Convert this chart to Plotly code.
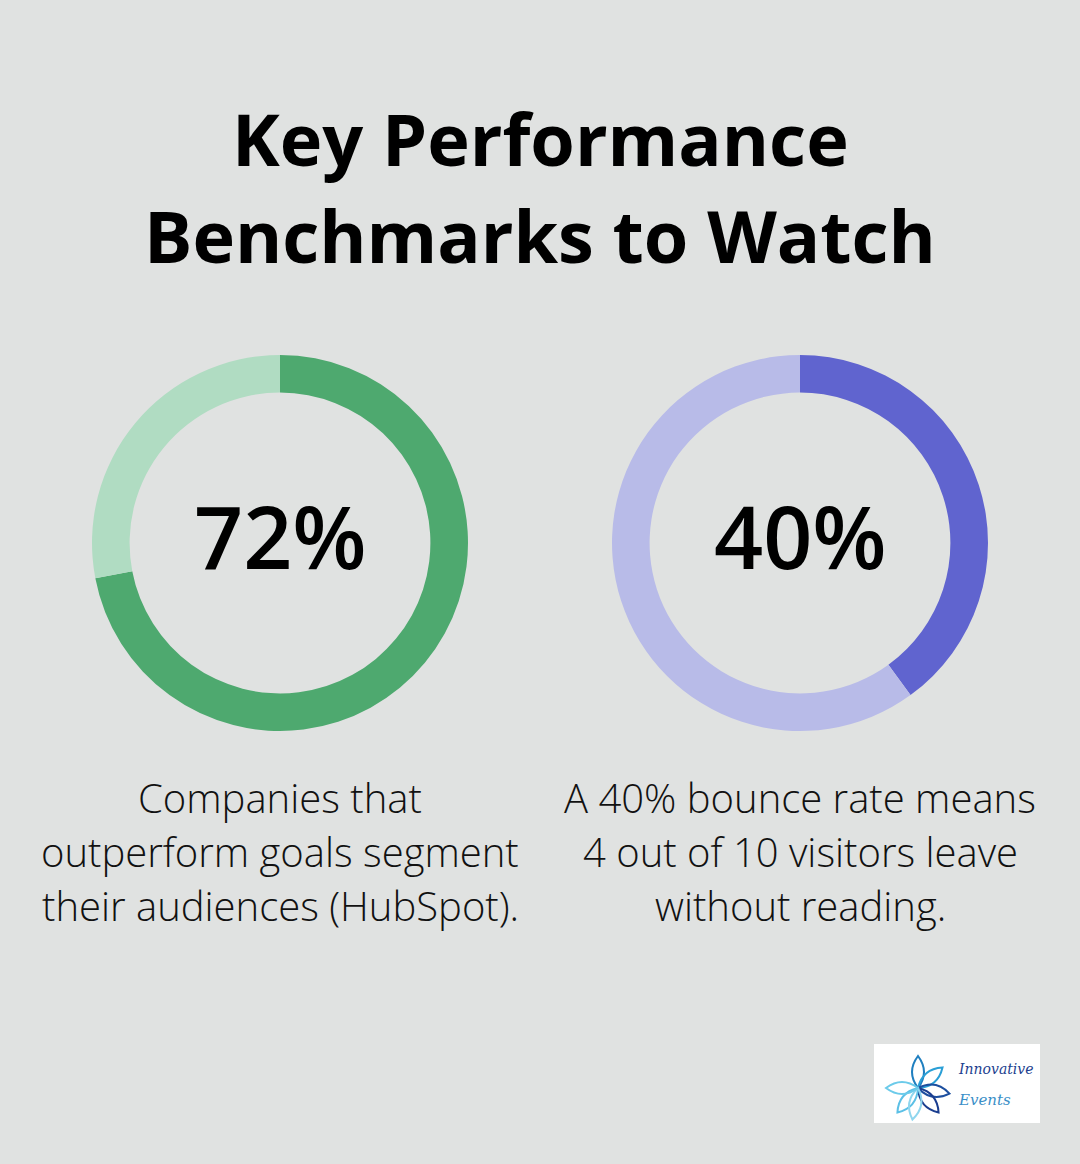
import math
import plotly.graph_objects as go

W, H = 1080, 1164

title_lines = ["Key Performance", "Benchmarks to Watch"]
metrics = [72, 40]
metric_labels = ["72%", "40%"]
dark_colors = ["#4ea96f", "#6064cf"]
light_colors = ["#b0dcc2", "#b8bbe8"]
descriptions = [
    ["Companies that", "outperform goals segment", "their audiences (HubSpot)."],
    ["A 40% bounce rate means", "4 out of 10 visitors leave", "without reading."],
]

BG = "#e0e2e1"
centers_x = [280, 800]
center_y = 543
R = 188

fig = go.Figure()

for i, v in enumerate(metrics):
    cx = centers_x[i]
    fig.add_trace(go.Pie(
        values=[v, 100 - v],
        labels=["value", "rest"],
        marker=dict(colors=[dark_colors[i], light_colors[i]], line=dict(width=0)),
        hole=0.80,
        sort=False,
        direction="clockwise",
        rotation=0,
        textinfo="none",
        hoverinfo="skip",
        showlegend=False,
        domain=dict(x=[(cx - R) / W, (cx + R) / W],
                    y=[(H - center_y - R) / H, (H - center_y + R) / H]),
    ))

def py(y):
    return 1 - y / H

ann = []
for j, t in enumerate(title_lines):
    ann.append(dict(text=f"<b>{t}</b>", x=0.5, y=py([138, 235][j]), xref="paper", yref="paper",
                    xanchor="center", yanchor="middle", showarrow=False,
                    font=dict(family="Open Sans", size=72, color="#000000")))
for i, lab in enumerate(metric_labels):
    ann.append(dict(text=lab, x=centers_x[i] / W, y=py(536), xref="paper", yref="paper",
                    xanchor="center", yanchor="middle", showarrow=False,
                    font=dict(family="Open Sans", size=86, color="#000000", weight=600)))
    for k, line in enumerate(descriptions[i]):
        ann.append(dict(text=line, x=centers_x[i] / W, y=py(797 + 54 * k), xref="paper", yref="paper",
                        xanchor="center", yanchor="middle", showarrow=False,
                        font=dict(family="Open Sans", size=40, color="#111111", weight=300)))

# logo text
ann.append(dict(text="Innovative", x=996, y=1069, xref="x", yref="y", xanchor="center", yanchor="middle",
                showarrow=False, font=dict(family="DejaVu Serif", size=14, color="#1d3f8f", style="italic")))
ann.append(dict(text="Events", x=984, y=1100, xref="x", yref="y", xanchor="center", yanchor="middle",
                showarrow=False, font=dict(family="DejaVu Serif", size=15, color="#3a8fc8", style="italic")))

shapes = [dict(type="rect", x0=874, x1=1040, y0=1044, y1=1123, xref="x", yref="y",
               fillcolor="#ffffff", line=dict(width=0), layer="below")]

# flower logo petals (decoration)
fc = (918, 1088)
petal_cols = ["#1f7fc0", "#2a9fd6", "#1d4f9f", "#1a3d8f", "#5cc0e6", "#8fd6ee", "#6ccbea"]
angles = [-90, -40, 10, 50, 130, 100, 180]
for a, col in zip(angles, petal_cols):
    r = math.radians(a)
    L = 32
    tx, ty = fc[0] + L * math.cos(r), fc[1] + L * math.sin(r)
    mx, my = fc[0] + 0.5 * L * math.cos(r), fc[1] + 0.5 * L * math.sin(r)
    nx, ny = -math.sin(r), math.cos(r)
    w = 12
    path = (f"M {fc[0]},{fc[1]} Q {mx + w*nx},{my + w*ny} {tx},{ty} "
            f"Q {mx - w*nx},{my - w*ny} {fc[0]},{fc[1]} Z")
    shapes.append(dict(type="path", path=path, xref="x", yref="y",
                       line=dict(color=col, width=2), fillcolor="rgba(0,0,0,0)"))

fig.update_layout(
    width=W, height=H,
    margin=dict(l=0, r=0, t=0, b=0),
    paper_bgcolor=BG, plot_bgcolor=BG,
    xaxis=dict(range=[0, W], visible=False, fixedrange=True, domain=[0, 1]),
    yaxis=dict(range=[H, 0], visible=False, fixedrange=True, domain=[0, 1]),
    annotations=ann,
    shapes=shapes,
)

fig.write_html("out.html")
